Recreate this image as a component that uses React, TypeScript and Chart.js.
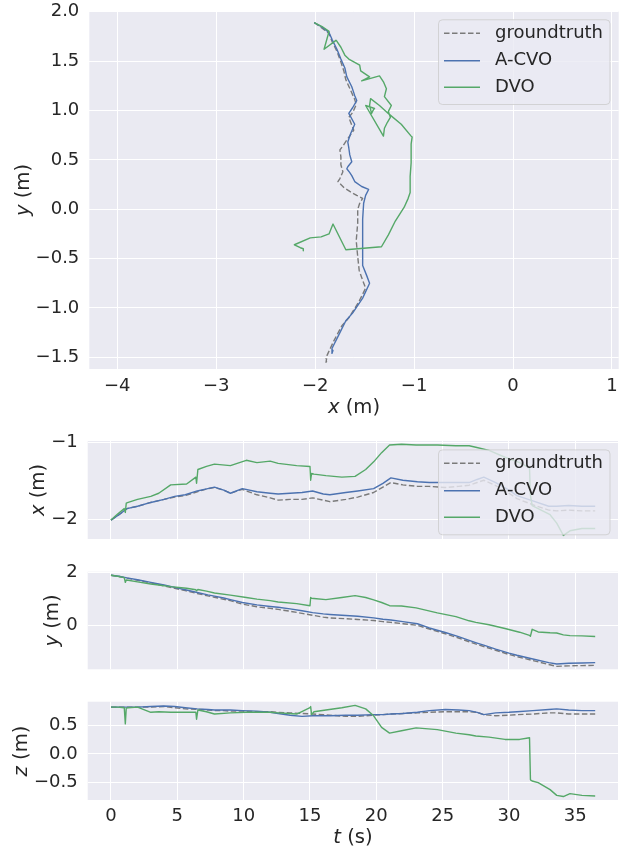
import React, { useEffect, useRef } from 'react';
import { Chart, registerables } from 'chart.js';
Chart.register(...registerables);

// ---------------- data ----------------
const tGT = [0, 0.6, 1.2, 2, 3, 4, 4.8, 5.6, 6.5, 7.3, 7.8, 8.5, 9, 9.9, 11, 12, 12.6, 13.5, 14.4, 15.2, 16, 16.5, 17.7, 18.6, 19.8, 20.5, 21.1, 22, 23.1, 24, 25.2, 26.2, 27, 27.6, 28.1, 29, 30, 30.6, 31.8, 33, 33.6, 34.5, 35.5, 36.5];
const xGT = [-2.01, -1.94, -1.86, -1.83, -1.78, -1.74, -1.71, -1.69, -1.64, -1.60, -1.585, -1.62, -1.66, -1.61, -1.68, -1.72, -1.75, -1.74, -1.74, -1.72, -1.75, -1.77, -1.74, -1.71, -1.65, -1.58, -1.52, -1.55, -1.57, -1.57, -1.585, -1.57, -1.555, -1.52, -1.49, -1.56, -1.66, -1.73, -1.81, -1.88, -1.89, -1.88, -1.89, -1.89];
const yGT = [1.89, 1.84, 1.78, 1.70, 1.60, 1.49, 1.40, 1.31, 1.20, 1.11, 1.06, 0.98, 0.93, 0.80, 0.70, 0.64, 0.60, 0.53, 0.45, 0.38, 0.31, 0.28, 0.25, 0.22, 0.18, 0.14, 0.11, 0.06, 0.0, -0.14, -0.32, -0.48, -0.62, -0.72, -0.80, -0.94, -1.10, -1.18, -1.33, -1.48, -1.55, -1.53, -1.52, -1.51];
const zGT = [0.81, 0.81, 0.81, 0.81, 0.81, 0.82, 0.80, 0.78, 0.77, 0.76, 0.75, 0.75, 0.74, 0.74, 0.73, 0.73, 0.72, 0.71, 0.70, 0.69, 0.68, 0.67, 0.65, 0.65, 0.67, 0.68, 0.69, 0.70, 0.71, 0.72, 0.73, 0.73, 0.73, 0.72, 0.68, 0.66, 0.67, 0.68, 0.69, 0.71, 0.71, 0.69, 0.69, 0.69];

const tACVO = [0, 0.6, 1.2, 2, 3, 4, 4.8, 5.6, 6.5, 7.3, 7.8, 8.5, 9, 9.9, 11, 12, 12.6, 13.5, 14.4, 15.2, 16, 16.5, 17.7, 18.6, 19.8, 20.5, 21.1, 22, 23.1, 24, 25.2, 26.2, 27, 27.6, 28.1, 29, 30, 30.6, 31.8, 33, 33.6, 34.5, 35.5, 36.5];
const xACVO = [-2.01, -1.94, -1.86, -1.83, -1.78, -1.74, -1.70, -1.68, -1.63, -1.60, -1.58, -1.62, -1.66, -1.60, -1.64, -1.66, -1.67, -1.66, -1.65, -1.63, -1.67, -1.68, -1.65, -1.63, -1.60, -1.53, -1.46, -1.49, -1.51, -1.52, -1.52, -1.52, -1.52, -1.48, -1.45, -1.52, -1.62, -1.69, -1.76, -1.83, -1.83, -1.82, -1.83, -1.83];
const yACVO = [1.89, 1.85, 1.79, 1.72, 1.62, 1.52, 1.43, 1.34, 1.24, 1.15, 1.10, 1.03, 0.97, 0.86, 0.77, 0.71, 0.68, 0.62, 0.55, 0.48, 0.43, 0.41, 0.37, 0.34, 0.28, 0.23, 0.20, 0.14, 0.06, -0.10, -0.27, -0.43, -0.57, -0.67, -0.75, -0.90, -1.05, -1.13, -1.27, -1.41, -1.46, -1.43, -1.42, -1.41];
const zACVO = [0.81, 0.81, 0.81, 0.81, 0.82, 0.83, 0.82, 0.80, 0.78, 0.77, 0.76, 0.76, 0.76, 0.75, 0.74, 0.72, 0.70, 0.67, 0.65, 0.66, 0.66, 0.66, 0.67, 0.67, 0.68, 0.68, 0.69, 0.70, 0.72, 0.75, 0.77, 0.76, 0.75, 0.72, 0.68, 0.71, 0.72, 0.73, 0.75, 0.77, 0.78, 0.76, 0.75, 0.75];

const tDVO = [0, 0.5, 1.0, 1.08, 1.15, 1.3, 2, 3, 3.6, 4.5, 5.7, 6.4, 6.45, 6.55, 7.2, 7.8, 9, 10.2, 11, 12, 12.6, 14, 15, 15.05, 15.12, 15.3, 16.2, 17.4, 18.4, 19.2, 19.8, 20.4, 21, 21.9, 23, 24.6, 26, 27, 27.5, 28.5, 29.7, 30.8, 31.55, 31.62, 31.75, 32.2, 33.1, 33.6, 34.1, 34.6, 35.5, 36.5];
const xDVO = [-2.01, -1.93, -1.86, -1.91, -1.79, -1.78, -1.74, -1.70, -1.66, -1.55, -1.54, -1.45, -1.53, -1.35, -1.31, -1.28, -1.30, -1.23, -1.26, -1.24, -1.27, -1.30, -1.31, -1.49, -1.40, -1.41, -1.43, -1.45, -1.44, -1.35, -1.25, -1.13, -1.03, -1.02, -1.03, -1.03, -1.04, -1.04, -1.06, -1.10, -1.19, -1.26, -1.33, -1.69, -1.82, -1.86, -1.94, -2.05, -2.21, -2.15, -2.12, -2.12];
const yDVO = [1.89, 1.85, 1.80, 1.62, 1.71, 1.70, 1.64, 1.56, 1.52, 1.46, 1.40, 1.34, 1.30, 1.35, 1.29, 1.22, 1.14, 1.05, 0.99, 0.93, 0.88, 0.82, 0.74, 1.05, 1.02, 1.01, 0.97, 1.05, 1.12, 1.05, 0.96, 0.86, 0.74, 0.73, 0.66, 0.47, 0.33, 0.17, 0.11, 0.02, -0.12, -0.26, -0.38, -0.41, -0.15, -0.25, -0.28, -0.29, -0.36, -0.39, -0.40, -0.42];
const zDVO = [0.81, 0.81, 0.80, 0.52, 0.79, 0.80, 0.81, 0.72, 0.73, 0.72, 0.72, 0.72, 0.60, 0.76, 0.73, 0.69, 0.71, 0.72, 0.72, 0.72, 0.71, 0.69, 0.80, 0.82, 0.68, 0.73, 0.76, 0.80, 0.84, 0.78, 0.66, 0.46, 0.36, 0.40, 0.45, 0.42, 0.36, 0.33, 0.31, 0.29, 0.25, 0.25, 0.28, -0.45, -0.47, -0.50, -0.62, -0.72, -0.74, -0.69, -0.72, -0.73];

const seriesNames = ['groundtruth', 'A-CVO', 'DVO'];
const xyXTicks = [-4, -3, -2, -1, 0, 1];
const xyYTicks = [-1.5, -1.0, -0.5, 0.0, 0.5, 1.0, 1.5, 2.0];
const timeTicks = [0, 5, 10, 15, 20, 25, 30, 35];
const xTimeYTicks = [-2, -1];
const yTimeYTicks = [0, 2];
const zTimeYTicks = [-0.5, 0.0, 0.5];

// ---------------- style ----------------
const W = 624;
const H = 850;
const FONT = '"DejaVu Sans", sans-serif';
const TEXT = '#262626';
const BG = '#EAEAF2';
const COL_GT = '#7a7a7a';
const COL_ACVO = '#4C72B0';
const COL_DVO = '#55A868';
const TICK_SIZE = 18;
const LABEL_SIZE = 19.6;
const XH = 40;

type Pt = { x: number; y: number };
const zip = (a: number[], b: number[]): Pt[] => a.map((v, i) => ({ x: v, y: b[i] }));
const fmt = (v: number, d: number) => (v < -1e-9 ? '\u2212' : '') + Math.abs(v).toFixed(d);

type Area = { l: number; t: number; r: number; b: number };
type Title = { parts: [string, boolean][]; x: number; y: number; rot: number };
type Legend = { x: number; y: number; w: number; h: number; rows: number[] };

function drawTitle(ctx: CanvasRenderingContext2D, t: Title) {
  ctx.save();
  ctx.translate(t.x, t.y);
  ctx.rotate(t.rot);
  ctx.fillStyle = TEXT;
  ctx.textBaseline = 'middle';
  ctx.textAlign = 'left';
  const widths = t.parts.map(([s, it]) => {
    ctx.font = `${it ? 'italic ' : ''}${LABEL_SIZE}px ${FONT}`;
    return ctx.measureText(s).width;
  });
  let x = -widths.reduce((a, b) => a + b, 0) / 2;
  t.parts.forEach(([s, it], i) => {
    ctx.font = `${it ? 'italic ' : ''}${LABEL_SIZE}px ${FONT}`;
    ctx.fillText(s, x, 0);
    x += widths[i];
  });
  ctx.restore();
}

function drawLegend(ctx: CanvasRenderingContext2D, lg: Legend) {
  ctx.save();
  ctx.beginPath();
  (ctx as any).roundRect(lg.x + 0.5, lg.y + 0.5, lg.w, lg.h, 4);
  ctx.fillStyle = 'rgba(234,234,242,0.8)';
  ctx.fill();
  ctx.strokeStyle = 'rgba(204,204,204,0.8)';
  ctx.lineWidth = 1;
  ctx.stroke();
  const cols = [COL_GT, COL_ACVO, COL_DVO];
  seriesNames.forEach((name, i) => {
    const y = lg.rows[i];
    ctx.beginPath();
    ctx.setLineDash(i === 0 ? [5.5, 2.5] : []);
    ctx.strokeStyle = cols[i];
    ctx.lineWidth = 1.4;
    ctx.moveTo(lg.x + 6, y);
    ctx.lineTo(lg.x + 42, y);
    ctx.stroke();
    ctx.setLineDash([]);
    ctx.fillStyle = TEXT;
    ctx.font = `${TICK_SIZE}px ${FONT}`;
    ctx.textBaseline = 'middle';
    ctx.textAlign = 'left';
    ctx.fillText(name, lg.x + 57, y);
  });
  ctx.restore();
}

function makeConfig(o: {
  gt: Pt[]; acvo: Pt[]; dvo: Pt[];
  area: Area;
  xMin: number; xMax: number; yMin: number; yMax: number;
  xTicks: number[]; yTicks: number[]; xDec: number; yDec: number;
  showX: boolean; xPad: number;
  titles: Title[]; legend?: Legend;
}): any {
  const a = o.area;
  const plugin = {
    id: 'decor',
    beforeDraw(chart: any) {
      const c = chart.chartArea;
      const ctx = chart.ctx;
      ctx.save();
      ctx.fillStyle = BG;
      ctx.fillRect(c.left, c.top, c.right - c.left, c.bottom - c.top);
      ctx.restore();
    },
    afterDraw(chart: any) {
      const ctx = chart.ctx;
      o.titles.forEach((t) => drawTitle(ctx, t));
      if (o.legend) drawLegend(ctx, o.legend);
    },
  };
  const line = (data: Pt[], color: string, dash: number[]) => ({
    data,
    showLine: true,
    borderColor: color,
    backgroundColor: color,
    borderWidth: 1.4,
    borderDash: dash,
    borderJoinStyle: 'round',
    pointRadius: 0,
    pointHoverRadius: 0,
    tension: 0,
    fill: false,
  });
  const zeroPad = (s: any) => {
    s.paddingLeft = 0; s.paddingRight = 0; s.paddingTop = 0; s.paddingBottom = 0;
  };
  return {
    type: 'scatter',
    data: {
      datasets: [
        { label: 'DVO', ...line(o.dvo, COL_DVO, []) },
        { label: 'A-CVO', ...line(o.acvo, COL_ACVO, []) },
        { label: 'groundtruth', ...line(o.gt, COL_GT, [5.5, 2.5]) },
      ],
    },
    options: {
      responsive: false,
      animation: false,
      devicePixelRatio: 1,
      events: [],
      layout: { padding: { left: 0, top: a.t, right: W - a.r, bottom: H - a.b - XH } },
      plugins: { legend: { display: false }, tooltip: { enabled: false } },
      scales: {
        x: {
          type: 'linear',
          min: o.xMin,
          max: o.xMax,
          afterBuildTicks: (s: any) => { s.ticks = o.xTicks.map((v) => ({ value: v })); },
          afterFit: (s: any) => { s.height = XH; zeroPad(s); },
          grid: { color: '#ffffff', lineWidth: 1, drawTicks: false },
          border: { display: false },
          ticks: {
            display: o.showX,
            autoSkip: false,
            maxRotation: 0,
            padding: o.xPad,
            color: TEXT,
            font: { family: FONT, size: TICK_SIZE },
            callback: (v: any) => fmt(Number(v), o.xDec),
          },
        },
        y: {
          type: 'linear',
          min: o.yMin,
          max: o.yMax,
          afterBuildTicks: (s: any) => { s.ticks = o.yTicks.map((v) => ({ value: v })); },
          afterFit: (s: any) => { s.width = a.l; zeroPad(s); },
          grid: { color: '#ffffff', lineWidth: 1, drawTicks: false },
          border: { display: false },
          ticks: {
            autoSkip: false,
            padding: 10,
            color: TEXT,
            font: { family: FONT, size: TICK_SIZE },
            callback: (v: any) => fmt(Number(v), o.yDec),
          },
        },
      },
    },
    plugins: [plugin],
  };
}

const lgRowsTop = [33.3, 60.7, 87.3];
const lgRowsLow = [463.3, 490.7, 517.3];
const it = (v: string): [string, boolean][] => [[v, true], [' (m)', false]];

export default function App() {
  const r0 = useRef<HTMLCanvasElement>(null);
  const r1 = useRef<HTMLCanvasElement>(null);
  const r2 = useRef<HTMLCanvasElement>(null);
  const r3 = useRef<HTMLCanvasElement>(null);
  const refs = [r0, r1, r2, r3];

  useEffect(() => {
    const timeArea = (t: number, b: number): Area => ({ l: 87.7, t, r: 618, b });
    const configs = [
      makeConfig({
        gt: zip(xGT, yGT), acvo: zip(xACVO, yACVO), dvo: zip(xDVO, yDVO),
        area: { l: 89.3, t: 11, r: 618.7, b: 369 },
        xMin: -4.283, xMax: 1.068, yMin: -1.618, yMax: 2.007,
        xTicks: xyXTicks, yTicks: xyYTicks, xDec: 0, yDec: 1,
        showX: true, xPad: 7,
        titles: [
          { parts: it('x'), x: 354, y: 408, rot: 0 },
          { parts: it('y'), x: 23.5, y: 190, rot: -Math.PI / 2 },
        ],
        legend: { x: 438, y: 19.3, w: 171.5, h: 84.7, rows: lgRowsTop },
      }),
      makeConfig({
        gt: zip(tGT, xGT), acvo: zip(tACVO, xACVO), dvo: zip(tDVO, xDVO),
        area: timeArea(441, 539),
        xMin: -1.756, xMax: 38.22, yMin: -2.257, yMax: -0.978,
        xTicks: timeTicks, yTicks: xTimeYTicks, xDec: 0, yDec: 0,
        showX: false, xPad: 6,
        titles: [{ parts: it('x'), x: 38.5, y: 490, rot: -Math.PI / 2 }],
        legend: { x: 438, y: 449.4, w: 171.5, h: 84.9, rows: lgRowsLow },
      }),
      makeConfig({
        gt: zip(tGT, yGT), acvo: zip(tACVO, yACVO), dvo: zip(tDVO, yDVO),
        area: timeArea(571.7, 669.3),
        xMin: -1.756, xMax: 38.22, yMin: -1.66, yMax: 2.023,
        xTicks: timeTicks, yTicks: yTimeYTicks, xDec: 0, yDec: 0,
        showX: false, xPad: 6,
        titles: [{ parts: it('y'), x: 53, y: 620.5, rot: -Math.PI / 2 }],
      }),
      makeConfig({
        gt: zip(tGT, zGT), acvo: zip(tACVO, zACVO), dvo: zip(tDVO, zDVO),
        area: timeArea(701.7, 800),
        xMin: -1.756, xMax: 38.22, yMin: -0.8, yMax: 0.904,
        xTicks: timeTicks, yTicks: zTimeYTicks, xDec: 0, yDec: 1,
        showX: true, xPad: 6,
        titles: [
          { parts: it('z'), x: 21.5, y: 751, rot: -Math.PI / 2 },
          { parts: [['t', true], [' (s)', false]], x: 353, y: 838, rot: 0 },
        ],
      }),
    ];
    const charts = configs.map((cfg, i) => new Chart(refs[i].current as HTMLCanvasElement, cfg));
    return () => charts.forEach((c) => c.destroy());
  }, []);

  return (
    <div style={{ position: 'absolute', left: 0, top: 0, width: W, height: H, background: '#ffffff' }}>
      {refs.map((r, i) => (
        <canvas
          key={i}
          ref={r}
          width={W}
          height={H}
          style={{ position: 'absolute', left: 0, top: 0, width: W, height: H }}
        />
      ))}
    </div>
  );
}
